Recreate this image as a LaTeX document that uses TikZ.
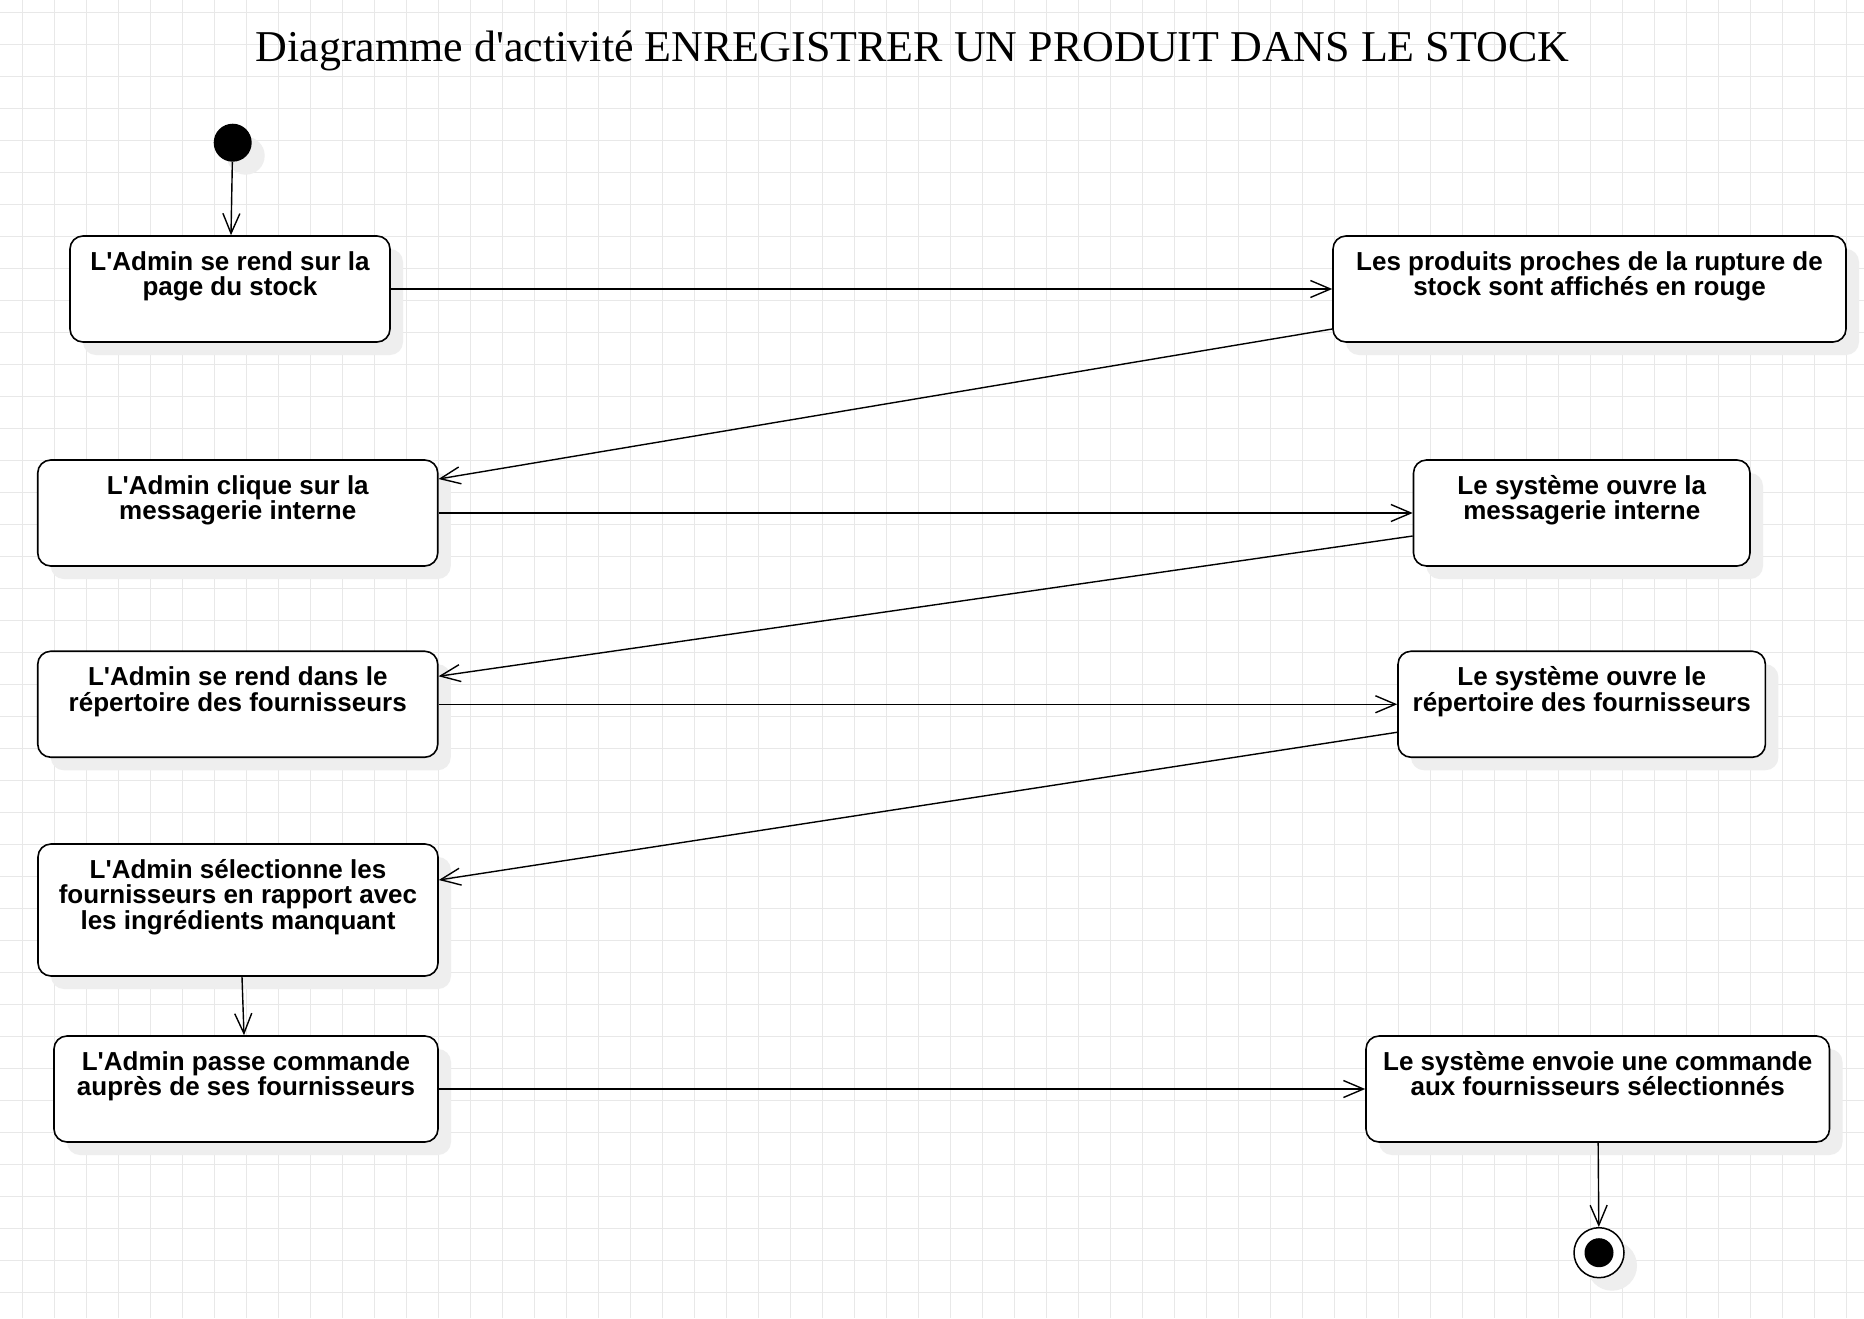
\documentclass[tikz,border=0pt]{standalone}
\usepackage{fontspec}
\setmainfont{Liberation Serif}
\newfontfamily\actfont{Liberation Sans}
\usetikzlibrary{arrows.meta}
\usetikzlibrary{shadows}
\definecolor{gridgray}{RGB}{232,232,232}
\definecolor{shadowgray}{RGB}{238,238,238}
\newcommand{\heightact}{106pt}
\newcommand{\shadowoff}{13pt}
\tikzset{
    gridline/.style={gridgray, line width=1pt},
    softshadow/.style={drop shadow={shadow xshift=\shadowoff, shadow yshift=-\shadowoff, fill=shadowgray, opacity=1}},
    act/.style={draw, rectangle, rounded corners=13pt, line width=1.6pt, fill=white, softshadow,
        minimum height=\heightact, inner sep=0pt},
    acttext/.style={anchor=north, yshift=-16pt, inner sep=0pt, align=center,
        font=\actfont\bfseries\fontsize{26}{25.5}\selectfont},
    initial/.style={circle, fill=black, minimum size=38pt, inner sep=0pt, softshadow},
    final/.style={circle, draw, line width=1.5pt, fill=white, minimum size=50pt, inner sep=0pt, softshadow,
        path picture={\fill[black] (path picture bounding box.center) circle (14.5pt);}},
    flow/.style={-{Straight Barb[length=20pt, width=17pt]}, line width=1.4pt},
}
\begin{document}
\begin{tikzpicture}[x=1pt, y=-1pt]
    \useasboundingbox[fill=white] (0,0) rectangle (1864,1318);
    \foreach \gx in {22.3,54.3,...,1864} \draw[gridline] (\gx,0) -- (\gx,1318);
    \foreach \gy in {12.5,44.5,...,1318} \draw[gridline] (0,\gy) -- (1864,\gy);

    \node[anchor=base, font=\fontsize{44}{44}\selectfont] (title) at (912.5,61.7)
        {Diagramme d\textquotesingle activité ENREGISTRER UN PRODUIT DANS LE STOCK};

    \node[initial] (start) at (232.7,142.7) {};

    \node[act, minimum width=320pt, label={[acttext]north:{L'Admin se rend sur la\\page du stock}}]
        (stock) at (230,289) {};
    \node[act, minimum width=513pt, label={[acttext]north:{Les produits proches de la rupture de\\stock sont affichés en rouge}}]
        (rupture) at (1589.5,289) {};
    \node[act, minimum width=400pt, label={[acttext]north:{L'Admin clique sur la\\messagerie interne}}]
        (clique) at (237.75,513) {};
    \node[act, minimum width=336.5pt, label={[acttext]north:{Le système ouvre la\\messagerie interne}}]
        (messagerie) at (1581.75,513) {};
    \node[act, minimum width=400pt, label={[acttext]north:{L'Admin se rend dans le\\répertoire des fournisseurs}}]
        (renddans) at (237.75,704.25) {};
    \node[act, minimum width=367.4pt, label={[acttext]north:{Le système ouvre le\\répertoire des fournisseurs}}]
        (repertoire) at (1581.7,704.25) {};
    \node[act, minimum width=400pt, minimum height=132pt,
            label={[acttext]north:{L'Admin sélectionne les\\fournisseurs en rapport avec\\les ingrédients manquant}}]
        (selection) at (238,910) {};
    \node[act, minimum width=384pt, label={[acttext]north:{L'Admin passe commande\\auprès de ses fournisseurs}}]
        (commande) at (246,1089) {};
    \node[act, minimum width=463.5pt, label={[acttext]north:{Le système envoie une commande\\aux fournisseurs sélectionnés}}]
        (envoi) at (1597.75,1089) {};

    \node[final] (end) at (1599,1252.7) {};

    \draw[flow] (start) -- (stock);
    \draw[flow] (stock) -- (rupture);
    \draw[flow] ([yshift=-40pt]rupture.west) -- ([yshift=34pt]clique.east);
    \draw[flow] (clique) -- (messagerie);
    \draw[flow] ([yshift=-23pt]messagerie.west) -- ([yshift=28pt]renddans.east);
    \draw[flow] (renddans) -- (repertoire);
    \draw[flow] ([yshift=-28pt]repertoire.west) -- ([yshift=30pt]selection.east);
    \draw[flow] ([xshift=4pt]selection.south) -- ([xshift=-2pt]commande.north);
    \draw[flow] (commande) -- (envoi);
    \draw[flow] (envoi) -- (end);
\end{tikzpicture}
\end{document}
